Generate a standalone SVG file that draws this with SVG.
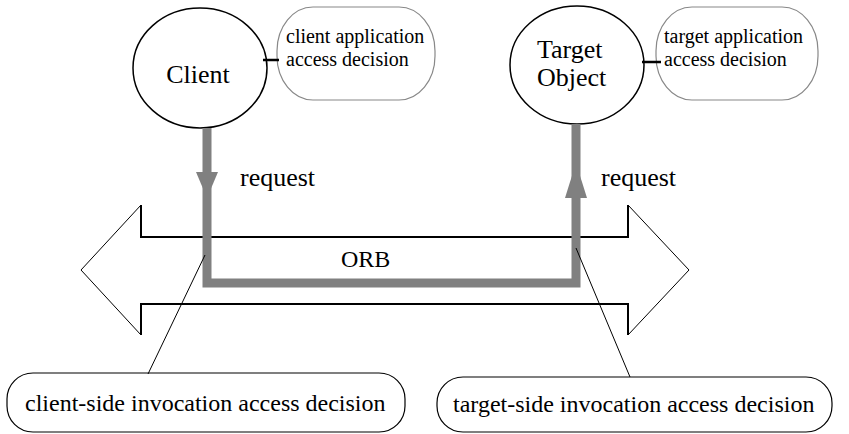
<svg xmlns="http://www.w3.org/2000/svg" width="849" height="434" viewBox="0 0 849 434">
<style>
text{font-family:"Liberation Serif","Times New Roman",serif;fill:#000}
.node{fill:#fff;stroke:#000;stroke-width:1.5}
.bub{fill:#fff;stroke:#888;stroke-width:1.2}
.bub2{fill:#fff;stroke:#000;stroke-width:1.2}
.orb{fill:none;stroke:#000;stroke-width:2}
.thin{fill:none;stroke:#000;stroke-width:1}
.flow{fill:none;stroke:#808080;stroke-width:9;stroke-linejoin:miter}
.head{fill:#808080}
.lab{font-size:26px}
.small{font-size:20px}
.big{font-size:24px}
</style>
<g id="orb">
<path class="orb" d="M141,205 V237 H628 V205 M141,335 V304 H628 V335"/>
<path class="thin" d="M141,205 L81,270 L141,335 M628,205 L689,270 L628,335"/>
<text x="341" y="267" style="font-size:24px">ORB</text>
</g>
<g id="client">
<ellipse class="node" cx="200" cy="68" rx="67" ry="60"/>
<text class="lab" x="198" y="83" text-anchor="middle">Client</text>
</g>
<g id="client-app">
<rect class="bub" x="277" y="7" width="158" height="93" rx="36" ry="44"/>
<text class="small" x="286" y="43">client application</text>
<text class="small" x="286" y="66">access decision</text>
</g>
<g id="target">
<ellipse class="node" cx="577" cy="65" rx="67" ry="59"/>
<text class="lab" x="537" y="58">Target</text>
<text class="lab" x="537" y="86">Object</text>
</g>
<g id="target-app">
<rect class="bub" x="656" y="7" width="162" height="93" rx="36" ry="44"/>
<text class="small" x="664" y="43">target application</text>
<text class="small" x="664" y="66">access decision</text>
</g>
<g id="client-side">
<rect class="bub2" x="7" y="373" width="398" height="59" rx="26" ry="26"/>
<text class="big" x="25" y="411">client-side invocation access decision</text>
</g>
<g id="target-side">
<rect class="bub2" x="437" y="377" width="395" height="55" rx="26" ry="26"/>
<text class="big" x="453" y="412">target-side invocation access decision</text>
</g>
<g id="connectors">
<path d="M263,60 H279 M642,62 H661" stroke="#000" stroke-width="2.5"/>
<path class="flow" d="M207,128 V283 H576 V124"/>
<polygon class="head" points="196,172 218,172 207,198"/>
<polygon class="head" points="565,198 587,198 576,163"/>
<path class="thin" d="M205,255 L148,374 M576,248 L630,377"/>
<text class="lab" x="240" y="186">request</text>
<text class="lab" x="601" y="186">request</text>
</g>
</svg>
